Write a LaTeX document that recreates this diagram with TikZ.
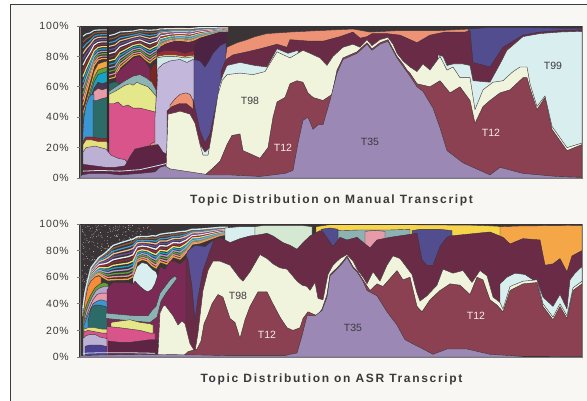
\documentclass[tikz,border=0pt]{standalone}
\usepackage{fontspec}
\setmainfont{Liberation Sans}
\definecolor{bgd}{HTML}{3A3436}
\definecolor{vstrip}{HTML}{2E2A2C}
\definecolor{edge}{HTML}{3A3436}
\definecolor{paper}{HTML}{F8F7F4}
\definecolor{framec}{HTML}{3C3C3C}
\definecolor{axc}{HTML}{7A7A7A}
\definecolor{axtext}{HTML}{3A3A3A}
\definecolor{t35}{HTML}{9B88B4}
\definecolor{t12}{HTML}{8B4151}
\definecolor{cream}{HTML}{F1F4DC}
\definecolor{mar}{HTML}{6A2B47}
\definecolor{salm}{HTML}{EE9275}
\definecolor{navy}{HTML}{524D8E}
\definecolor{tcy}{HTML}{D9EEEE}
\definecolor{lav}{HTML}{BDB0D5}
\definecolor{lavb}{HTML}{C4B7DC}
\definecolor{marlow}{HTML}{5E2444}
\definecolor{mag}{HTML}{7A2A55}
\definecolor{dkred}{HTML}{7B2525}
\definecolor{teal}{HTML}{2D6B68}
\definecolor{gteal}{HTML}{8DB2B3}
\definecolor{yel}{HTML}{E4E78A}
\definecolor{pink}{HTML}{D8548A}
\definecolor{lpink}{HTML}{E79AA8}
\definecolor{orng}{HTML}{F4A540}
\definecolor{orng2}{HTML}{F5A646}
\definecolor{orng3}{HTML}{F58B3B}
\definecolor{grn}{HTML}{5FA03A}
\definecolor{cyn}{HTML}{17A2C4}
\definecolor{blu}{HTML}{3B97D4}
\definecolor{gold}{HTML}{F6D54B}
\definecolor{mint}{HTML}{D5E9D2}
\definecolor{dmar}{HTML}{4C2342}
\definecolor{navyb}{HTML}{5A5096}
\definecolor{indig}{HTML}{4B4190}
\definecolor{lyel}{HTML}{E6E07C}
\definecolor{rline}{HTML}{8A2A35}
\definecolor{dpur}{HTML}{4A3752}
\definecolor{lilac}{HTML}{B9A3CF}
\definecolor{sa}{HTML}{F4A540}
\definecolor{sb}{HTML}{E88FA5}
\definecolor{sc}{HTML}{5EA43A}
\definecolor{sd}{HTML}{B59AD0}
\definecolor{se}{HTML}{19A2C4}
\definecolor{sf}{HTML}{EFE07A}
\definecolor{sg}{HTML}{9A2A3A}
\definecolor{sh}{HTML}{EDEDED}
\definecolor{si}{HTML}{6F4C9A}
\definecolor{sj}{HTML}{F0C08A}
\definecolor{sk}{HTML}{3D98D5}
\definecolor{sl}{HTML}{8A5A3A}
\definecolor{sm}{HTML}{CFE9EA}
\definecolor{tdark}{HTML}{3C3840}
\definecolor{twhite}{HTML}{F6EEF0}
\begin{document}
\begin{tikzpicture}[x=1pt,y=1pt,
  lay/.style={fill=#1,draw=edge,line width=0.4pt,line join=round},
  axlab/.style={font=\fontsize{10.5}{12}\selectfont\addfontfeature{LetterSpace=8},text=axtext,anchor=east,inner sep=0pt},
  tlab/.style={font=\fontsize{10.5}{12}\selectfont,inner sep=0pt},
  ttl/.style={font=\fontsize{12}{14}\selectfont\bfseries\addfontfeature{LetterSpace=14},text=axtext,inner sep=0pt,anchor=base}]
\useasboundingbox (0,0) rectangle (587,401);
\fill[white] (0,0) rectangle (587,401);
\fill[paper] (10,0) rectangle (587,396);
\draw[framec,line width=1pt] (10,0) -- (10,396) -- (587,396);

% ================= UPPER CHART =================
\begin{scope}[shift={(0pt,223pt)},x=1pt,y=1.52pt]
\fill[bgd] (80,0) rectangle (582,100);
\foreach \c [count=\k] in {sa,sb,sc,sd,se,sf,sg,sh,si,sj,sk,sl,sm}{
  \pgfmathsetmacro\f{\k/14}
  \draw[\c,line width=1.1pt] (83,{44+53*\f}) -- (86,{52+46*\f}) -- (90,{62+36*\f}) -- (94,{72+27*\f}) -- (98,{76+23*\f}) -- (102,{77+22*\f}) -- (107,{77+22*\f});
  \draw[\c,line width=1.1pt] (109,{63+33*\f}) -- (115,{64+33*\f}) -- (120,{71+27*\f}) -- (125,{74+24*\f}) -- (133,{79+19*\f}) -- (140,{80+19*\f}) -- (146,{76+23*\f}) -- (150,{74+25*\f}) -- (153,{76+23*\f}) -- (157,{78+21*\f}) -- (160,{86+13*\f}) -- (170,{89+10*\f}) -- (180,{90+9*\f}) -- (190,{89+10*\f}) -- (200,{92+7.5*\f}) -- (210,{94+5.5*\f}) -- (220,{96+3.5*\f}) -- (228,{96.5+3*\f});
}
% strip A
\path[lay=orng] (83,0) -- (83,44) -- (86,50) -- (90,60) -- (94,70) -- (98,75) -- (102,76) -- (107,77) -- (107,0) -- cycle;
\path[lay=grn] (83,0) -- (83,41) -- (86,47) -- (90,57) -- (94,66) -- (98,71) -- (102,72) -- (107,73) -- (107,0) -- cycle;
\path[lay=cyn] (83,0) -- (83,39) -- (86,45) -- (90,54) -- (94,63) -- (98,68) -- (102,69) -- (107,70) -- (107,0) -- cycle;
\path[lay=dpur] (83,0) -- (83,37) -- (86,43) -- (90,51) -- (94,59) -- (98,63) -- (102,62) -- (107,63) -- (107,0) -- cycle;
\path[lay=lpink] (83,0) -- (83,35) -- (86,42) -- (90,50) -- (94,57) -- (98,59) -- (102,58) -- (107,59) -- (107,0) -- cycle;
\path[lay=blu] (83,0) -- (83,30) -- (84,40) -- (86,48) -- (89,53) -- (92,55) -- (94,55) -- (94,0) -- cycle;
\path[lay=teal] (93,0) -- (93,51) -- (97,51) -- (101,52) -- (107,53) -- (107,0) -- cycle;
\path[lay=rline] (83,0) -- (83,24) -- (86,27) -- (92,27) -- (100,26) -- (107,26) -- (107,0) -- cycle;
\path[lay=lyel] (83,0) -- (83,22) -- (86,25) -- (92,25) -- (98,24) -- (107,24) -- (107,0) -- cycle;
% strip B
\path[lay=dkred] (148,0) -- (148,66) -- (150,70) -- (153,74) -- (157,76) -- (160,73) -- (162,70) -- (162,0) -- cycle;
\path[lay=mag] (116,0) -- (116,68) -- (120,71) -- (125,74) -- (133,79) -- (140,80) -- (146,76) -- (150,72) -- (150,0) -- cycle;
\path[lay=teal] (109,0) -- (109,62) -- (113,63) -- (118,63) -- (120,60) -- (120,0) -- cycle;
\path[lay=gteal] (109,0) -- (109,57) -- (118,61) -- (125,64) -- (133,67) -- (140,68) -- (146,66) -- (152,63) -- (156,58) -- (157,0) -- cycle;
\path[lay=yel] (109,0) -- (109,55) -- (115,57) -- (120,59) -- (125,61) -- (130,62) -- (133,61) -- (137,63) -- (140,62) -- (144,61) -- (148,60) -- (152,57) -- (156,54) -- (157,0) -- cycle;
\path[lay=pink] (109,0) -- (109,49) -- (114,49) -- (118,50) -- (123,47) -- (128,48) -- (133,46) -- (140,46) -- (146,45) -- (152,44) -- (157,43) -- (158,0) -- cycle;
\path[lay=salm] (150,0) -- (150,22) -- (155,24) -- (158,25) -- (158,0) -- cycle;
% strip D/E
\path[lay=marlow] (157,0) -- (157,84) -- (165,88) -- (175,90) -- (185,89) -- (195,90) -- (200,92) -- (200,0) -- cycle;
\path[lay=sg] (157,0) -- (157,82) -- (165,84) -- (175,84) -- (185,82) -- (195,84) -- (198,84) -- (198,0) -- cycle;
\path[lay=lyel] (157,0) -- (157,80) -- (165,81) -- (175,81) -- (185,80) -- (196,81) -- (196,0) -- cycle;
\path[lay=sm] (157,0) -- (157,79) -- (165,80) -- (175,80) -- (185,79) -- (196,80) -- (196,0) -- cycle;
\path[lay=lavb] (155,0) -- (155,40) -- (157,60) -- (158,72) -- (163,75) -- (170,77) -- (180,78) -- (187,76) -- (193,78) -- (197,76) -- (197,0) -- cycle;
\path[lay=salm] (170,0) -- (170,48) -- (175,52) -- (180,55) -- (186,56) -- (190,55) -- (193,51) -- (195,48) -- (195,0) -- cycle;
\path[lay=mar] (167,0) -- (167,44) -- (172,47) -- (180,49) -- (186,49) -- (190,47) -- (195,44) -- (200,33) -- (205,25) -- (205,0) -- cycle;
\path[lay=dmar] (194,0) -- (194,86) -- (200,92) -- (210,94) -- (220,96) -- (227,96) -- (227,0) -- cycle;
\path[lay=navyb] (194,0) -- (194,78) -- (200,77) -- (205,73) -- (209,77) -- (213,82) -- (220,87) -- (226,89) -- (226,0) -- cycle;
\path[lay=mar] (193,0) -- (193,52) -- (195,46) -- (200,31) -- (205,23) -- (210,29) -- (217,51) -- (223,66) -- (226,72) -- (226,0) -- cycle;
\path[lay=tcy] (198,0) -- (198,25) -- (200,22) -- (205,17) -- (210,20) -- (217,40) -- (223,59) -- (226,65) -- (226,0) -- cycle;
% low left
\path[lay=lav] (83,0) -- (83,17) -- (86,20) -- (95,21) -- (106,19) -- (111,15) -- (118,13) -- (125,12) -- (128,10) -- (129,0) -- cycle;
\path[lay=marlow] (83,0) -- (83,9) -- (106,7) -- (115,7) -- (125,8) -- (130,14) -- (135,19) -- (148,21) -- (158,22) -- (163,17) -- (168,15) -- (172,10) -- (172,0) -- cycle;
% main layers
\path[lay=salm] (224,0) -- (224,72) -- (227,86) -- (237,89) -- (247,91) -- (255,93) -- (267,95) -- (290,96) -- (320,97) -- (353,98) -- (370,96) -- (400,97) -- (440,97) -- (470,98) -- (472,0) -- cycle;
\path[lay=navy] (468,0) -- (468,98) -- (490,99) -- (530,99) -- (560,98.5) -- (582,98.5) -- (582,0) -- cycle;
\path[lay=mar] (221,0) -- (221,70) -- (226,78) -- (233,81) -- (247,83) -- (260,85) -- (277,88) -- (287,86) -- (290,91) -- (310,90) -- (323,90) -- (340,93) -- (353,96) -- (360,92) -- (367,93) -- (372,95) -- (387,95) -- (400,94) -- (417,89) -- (430,94) -- (445,96) -- (465,96) -- (470,97) -- (473,76) -- (490,73) -- (503,86) -- (523,94) -- (540,96) -- (560,97) -- (582,97.5) -- (582,0) -- cycle;
\path[lay=tcy] (219,0) -- (219,60) -- (223,68) -- (227,74) -- (240,76) -- (255,74) -- (267,73) -- (277,85) -- (288,82) -- (298,84) -- (300,0) -- cycle;
\path[lay=tcy] (438,0) -- (438,81) -- (443,80) -- (447,74) -- (453,75) -- (463,75) -- (470,74) -- (473,64) -- (490,63) -- (500,75) -- (507,84) -- (523,93) -- (540,95) -- (560,96) -- (582,96.5) -- (582,0) -- cycle;
\path[lay=cream] (166,0) -- (166,5) -- (168,42) -- (175,43) -- (180,44) -- (190,42) -- (195,36) -- (200,22) -- (203,15) -- (208,15) -- (212,30) -- (218,55) -- (222,64) -- (227,68) -- (240,69) -- (253,68) -- (265,70) -- (277,83) -- (290,79) -- (303,84) -- (310,82) -- (320,79) -- (327,74) -- (333,80) -- (343,86) -- (353,88) -- (360,86) -- (367,91) -- (372,87) -- (380,91) -- (388,92.5) -- (393,88) -- (397,82) -- (403,77) -- (410,73) -- (417,70) -- (423,75) -- (430,71) -- (440,80) -- (447,71) -- (453,73) -- (460,66) -- (470,66) -- (475,45) -- (483,58) -- (493,63) -- (503,64) -- (513,70) -- (520,73) -- (527,73) -- (530,62) -- (537,47) -- (545,54) -- (552,34) -- (567,20) -- (582,23) -- (582,0) -- cycle;
\path[lay=t12] (200,0) -- (205,2) -- (212,6) -- (220,11) -- (227,22) -- (232,28) -- (240,29) -- (243,18) -- (250,16) -- (260,13) -- (268,20) -- (273,40) -- (277,50) -- (285,53) -- (290,62) -- (297,64) -- (303,63) -- (308,56) -- (313,53) -- (323,51) -- (332,55) -- (337,71) -- (343,79) -- (357,83) -- (367,89) -- (372,85) -- (380,89) -- (388,91) -- (397,80) -- (403,75) -- (407,71) -- (410,69) -- (417,62) -- (430,60) -- (440,64) -- (450,56) -- (460,60) -- (470,51) -- (475,36) -- (483,47) -- (490,51) -- (500,56) -- (510,58) -- (523,66) -- (527,66) -- (530,59) -- (537,45) -- (545,53) -- (552,32) -- (567,18) -- (582,22) -- (582,0) -- cycle;
\path[lay=t35] (80,0) -- (80,1) -- (82,2) -- (90,3) -- (106,3) -- (120,2) -- (140,3) -- (155,4) -- (160,7) -- (165,8) -- (170,6) -- (180,5) -- (190,4) -- (200,3) -- (210,2) -- (230,2) -- (260,1) -- (285,3) -- (293,5) -- (298,23) -- (303,38) -- (308,40) -- (313,32) -- (318,35) -- (323,35) -- (330,51) -- (337,69) -- (343,78) -- (357,82) -- (367,88) -- (372,84) -- (380,88) -- (388,90) -- (397,79) -- (410,67) -- (417,60) -- (423,57) -- (433,46) -- (440,33) -- (447,18) -- (463,10) -- (490,2) -- (500,7) -- (523,3) -- (557,1) -- (582,0.5) -- (582,0) -- cycle;
\draw[sm,line width=0.8pt] (83,4.5) -- (100,5) -- (120,4.5) -- (140,5.5) -- (160,8.5) -- (166,9.5);
\fill[vstrip] (106.8,23) rectangle (109.2,100);
% axes
\draw[bgd,line width=1.2pt] (80,0) -- (80,100);
\draw[axc,line width=0.7pt] (80,0) rectangle (582,100);
\draw[bgd,line width=0.9pt] (80,100) -- (582,100);
\foreach \p in {0,20,...,100}{
  \draw[axc,line width=0.6pt] (77,\p) -- (80,\p);
  \node[axlab] (ua\p) at (69,\p) {\p\%};
}
\node[tlab,text=tdark] (uT98) at (250,50.7) {T98};
\node[tlab,text=twhite] (uT12a) at (283,20) {T12};
\node[tlab,text=tdark] (uT35) at (370,23.7) {T35};
\node[tlab,text=twhite] (uT12b) at (491,29.6) {T12};
\node[tlab,text=tdark] (uT99) at (553,74) {T99};
\end{scope}

% ================= LOWER CHART =================
\begin{scope}[shift={(0pt,44pt)},x=1pt,y=1.33pt]
\fill[bgd] (80,0) rectangle (582,100);
\pgfmathsetseed{7}
\foreach \i in {1,...,70}{
  \pgfmathsetmacro\xx{82+11*rnd}\pgfmathsetmacro\yy{50+50*rnd}
  \fill[sh] (\xx,\yy) circle[radius=0.35pt];
}
\foreach \i in {1,...,80}{
  \pgfmathsetmacro\xx{92+22*rnd}\pgfmathsetmacro\yy{72+28*rnd}
  \fill[sh] (\xx,\yy) circle[radius=0.35pt];
}
\foreach \i in {1,...,70}{
  \pgfmathsetmacro\xx{112+40*rnd}\pgfmathsetmacro\yy{87+13*rnd}
  \fill[sh] (\xx,\yy) circle[radius=0.35pt];
}
\foreach \c [count=\k] in {sa,sb,sc,sd,se,sf,sg,sh,si,sj,sk,sl,sm}{
  \pgfmathsetmacro\f{\k/14}
  \draw[\c,line width=1.3pt] (83,{30+7*\f}) -- (85,{42+7*\f}) -- (88,{53+6*\f}) -- (91,{57+11*\f}) -- (95,{60+12*\f}) -- (99,{61+15*\f}) -- (104,{58+21*\f}) -- (108,{56+26*\f}) -- (113,{56+30*\f}) -- (120,{56+32*\f}) -- (128,{56+34*\f}) -- (133,{58+33*\f}) -- (137,{70+22*\f}) -- (142,{72+20*\f}) -- (147,{71+21*\f}) -- (152,{67+26*\f}) -- (156,{65+28*\f}) -- (160,{70+24*\f}) -- (167,{68+27*\f}) -- (173,{74+21*\f}) -- (180,{72+24*\f}) -- (186,{77+19*\f}) -- (192,{84+13*\f}) -- (200,{85+12*\f}) -- (210,{88+9.5*\f}) -- (220,{91+7*\f}) -- (228,{92+6*\f});
}
% strip A'
\path[lay=orng3] (83,0) -- (83,30) -- (85,42) -- (88,53) -- (91,57) -- (95,60) -- (99,61) -- (101,60) -- (101,0) -- cycle;
\path[lay=grn] (83,0) -- (83,28) -- (85,36) -- (88,42) -- (91,47) -- (95,52) -- (100,55) -- (104,56) -- (108,55) -- (110,0) -- cycle;
\path[lay=lilac] (84,0) -- (84,27) -- (86,34) -- (89,40) -- (92,45) -- (96,50) -- (100,52) -- (104,53) -- (110,53) -- (110,0) -- cycle;
\path[lay=lpink] (84,0) -- (84,26) -- (87,32) -- (90,38) -- (93,43) -- (97,47) -- (101,48) -- (106,48) -- (110,48) -- (110,0) -- cycle;
\path[lay=blu] (84,0) -- (84,24) -- (87,30) -- (90,35) -- (93,40) -- (97,42) -- (101,43) -- (106,42) -- (110,42) -- (110,0) -- cycle;
\path[lay=teal] (88,0) -- (88,27) -- (91,37) -- (95,39) -- (100,39) -- (105,38) -- (110,36) -- (111,0) -- cycle;
\path[lay=lyel] (84,0) -- (84,21) -- (88,22) -- (95,22) -- (102,21) -- (108,21) -- (108,0) -- cycle;
\path[lay=pink] (84,0) -- (84,19) -- (88,20) -- (95,19) -- (102,18) -- (108,18) -- (108,0) -- cycle;
\path[lay=lav] (83,0) -- (83,14) -- (86,16) -- (90,17) -- (95,17) -- (100,15) -- (106,14) -- (110,13) -- (110,0) -- cycle;
\path[lay=indig] (85,0) -- (85,8) -- (90,9) -- (95,9) -- (100,9) -- (106,8) -- (112,7) -- (115,6) -- (115,0) -- cycle;
% strip B'
\path[lay=tcy] (133,0) -- (133,60) -- (137,68) -- (142,71) -- (147,70) -- (152,66) -- (156,64) -- (158,60) -- (158,0) -- cycle;
\path[lay=mag] (107,0) -- (107,50) -- (110,54) -- (113,56) -- (120,56) -- (128,56) -- (133,55) -- (135,57) -- (140,53) -- (145,50) -- (148,49) -- (152,51) -- (155,55) -- (158,62) -- (160,68) -- (165,66) -- (170,72) -- (175,72) -- (180,70) -- (187,75) -- (190,78) -- (192,0) -- cycle;
\path[lay=gteal] (106,33) -- (120,32) -- (135,31) -- (148,31) -- (152,35) -- (156,38) -- (160,48) -- (165,53) -- (170,58) -- (175,61) -- (177,59) -- (172,54) -- (166,48) -- (161,42) -- (157,30) -- (150,26) -- (135,27) -- (120,28) -- (106,29) -- cycle;
\path[lay=yel] (111,0) -- (111,26) -- (120,27) -- (130,28) -- (140,26) -- (150,25) -- (153,24) -- (153,0) -- cycle;
\path[lay=pink] (107,0) -- (107,23) -- (120,22) -- (130,21) -- (140,20) -- (150,18) -- (155,18) -- (155,0) -- cycle;
\path[lay=marlow] (108,0) -- (108,12) -- (120,11) -- (130,11) -- (140,12) -- (150,13) -- (155,13) -- (158,12) -- (160,0) -- cycle;
% top right pieces
\path[lay=tcy] (225,0) -- (225,97) -- (240,98) -- (255,98) -- (258,0) -- cycle;
\path[lay=mint] (255,0) -- (255,98) -- (265,99) -- (300,99) -- (312,98) -- (315,0) -- cycle;
\path[lay=gold] (316,0) -- (316,98) -- (330,99.5) -- (400,99.5) -- (480,99) -- (505,98) -- (510,96) -- (510,0) -- cycle;
\path[lay=gteal] (338,0) -- (338,95) -- (360,95.5) -- (390,95.5) -- (410,96) -- (410,0) -- cycle;
\path[lay=lpink] (365,0) -- (365,94.5) -- (375,95.2) -- (385,94.5) -- (385,0) -- cycle;
\path[lay=navy] (321,0) -- (321,96) -- (330,97) -- (338,96) -- (338,0) -- cycle;
\path[lay=navy] (412,0) -- (412,95) -- (420,96) -- (440,96) -- (452,95) -- (452,0) -- cycle;
\path[lay=orng2] (500,0) -- (500,98) -- (520,98.5) -- (582,99) -- (582,0) -- cycle;
\path[lay=mar] (186,0) -- (186,75) -- (195,84) -- (205,83) -- (212,88) -- (220,90) -- (230,86) -- (240,89) -- (250,91) -- (260,92) -- (267,93) -- (273,91) -- (283,86) -- (290,84) -- (297,81) -- (303,86) -- (310,91) -- (320,95) -- (323,94) -- (333,83) -- (340,90) -- (347,88) -- (357,90) -- (370,82) -- (377,88) -- (390,90) -- (417,93) -- (422,73) -- (427,69) -- (433,69) -- (440,83) -- (447,90) -- (450,91) -- (490,94) -- (503,90) -- (510,85) -- (523,89) -- (540,88) -- (545,69) -- (553,70) -- (560,74) -- (567,64) -- (572,76) -- (582,80) -- (582,0) -- cycle;
\path[lay=navyb] (186,76) -- (188,80) -- (195,84) -- (205,83) -- (212,87) -- (214,88) -- (210,80) -- (203,65) -- (198,45) -- (195,28) -- (192,53) -- (188,73) -- cycle;
\path[lay=tcy] (500,0) -- (500,55) -- (507,60) -- (515,63) -- (525,62) -- (533,58) -- (537,57) -- (543,45) -- (553,38) -- (560,47) -- (567,36) -- (570,58) -- (575,63) -- (582,68) -- (582,0) -- cycle;
\path[lay=cream] (157,0) -- (158,3) -- (160,33) -- (163,38) -- (165,39) -- (168,36) -- (173,31) -- (178,24) -- (182,27) -- (185,25) -- (190,10) -- (195,4) -- (198,18) -- (203,50) -- (208,65) -- (213,72) -- (220,72) -- (230,69) -- (237,62) -- (240,59) -- (243,57) -- (250,64) -- (260,77) -- (267,74) -- (273,70) -- (280,67) -- (287,66) -- (297,57) -- (302,54) -- (307,53) -- (310,50) -- (315,56) -- (318,44) -- (323,43) -- (328,62) -- (333,69) -- (340,74) -- (347,77) -- (353,72) -- (357,66) -- (363,60) -- (367,55) -- (373,64) -- (380,57) -- (387,69) -- (393,76) -- (400,74) -- (407,67) -- (412,62) -- (417,48) -- (420,42) -- (427,46) -- (437,54) -- (443,66) -- (453,63) -- (463,65) -- (472,56) -- (480,65) -- (487,61) -- (493,45) -- (500,41) -- (503,36) -- (510,53) -- (523,57) -- (537,58) -- (543,40) -- (553,30) -- (560,40) -- (567,31) -- (573,52) -- (582,57) -- (582,0) -- cycle;
\path[lay=t12] (183,0) -- (183,0.5) -- (188,4) -- (197,6) -- (201,12) -- (204,25) -- (207,30) -- (212,40) -- (218,47) -- (223,45) -- (230,29) -- (235,26) -- (240,14) -- (245,28) -- (250,38) -- (258,49) -- (267,49) -- (273,40) -- (280,30) -- (287,22) -- (293,20) -- (300,22) -- (303,29) -- (308,34) -- (317,31) -- (322,36) -- (327,47) -- (330,62) -- (337,67) -- (343,72) -- (347,76) -- (353,68) -- (357,65) -- (363,58) -- (370,50) -- (377,55) -- (383,53) -- (390,59) -- (397,65) -- (403,58) -- (410,60) -- (417,38) -- (422,34) -- (430,43) -- (440,50) -- (450,55) -- (460,54) -- (470,47) -- (477,60) -- (483,58) -- (490,43) -- (497,39) -- (503,34) -- (510,50) -- (523,55) -- (537,56) -- (543,38) -- (553,28) -- (560,38) -- (567,29) -- (573,50) -- (582,55) -- (582,0) -- cycle;
\path[lay=t35] (80,0) -- (80,1) -- (100,1.5) -- (150,2) -- (200,1.5) -- (230,1) -- (285,1) -- (290,2) -- (297,3) -- (302,16) -- (307,31) -- (315,31) -- (322,35) -- (327,45) -- (330,61) -- (337,66) -- (343,71) -- (347,75) -- (353,67) -- (357,64) -- (363,57) -- (367,50) -- (377,46) -- (387,34) -- (397,24) -- (405,13) -- (415,9) -- (423,6) -- (433,2) -- (447,6) -- (467,6) -- (490,2) -- (523,0.5) -- (582,0.3) -- (582,0) -- cycle;
\draw[sm,line width=0.8pt] (83,2.8) -- (100,3.2) -- (130,3.2) -- (155,2.8);
% axes
\draw[bgd,line width=1.2pt] (80,0) -- (80,100);
\draw[axc,line width=0.7pt] (80,0) rectangle (582,100);
\draw[bgd,line width=0.9pt] (80,100) -- (582,100);
\foreach \p in {0,20,...,100}{
  \draw[axc,line width=0.6pt] (77,\p) -- (80,\p);
  \node[axlab] (la\p) at (69,\p) {\p\%};
}
\node[tlab,text=tdark] (lT98) at (238,46) {T98};
\node[tlab,text=twhite] (lT12a) at (267,16.5) {T12};
\node[tlab,text=tdark] (lT35) at (353,22) {T35};
\node[tlab,text=twhite] (lT12b) at (476,31) {T12};
\end{scope}

\node[ttl] (title1) at (331.5,197.7) {Topic Distribution on Manual Transcript};
\node[ttl] (title2) at (331.5,18.5) {Topic Distribution on ASR Transcript};
\end{tikzpicture}
\end{document}
